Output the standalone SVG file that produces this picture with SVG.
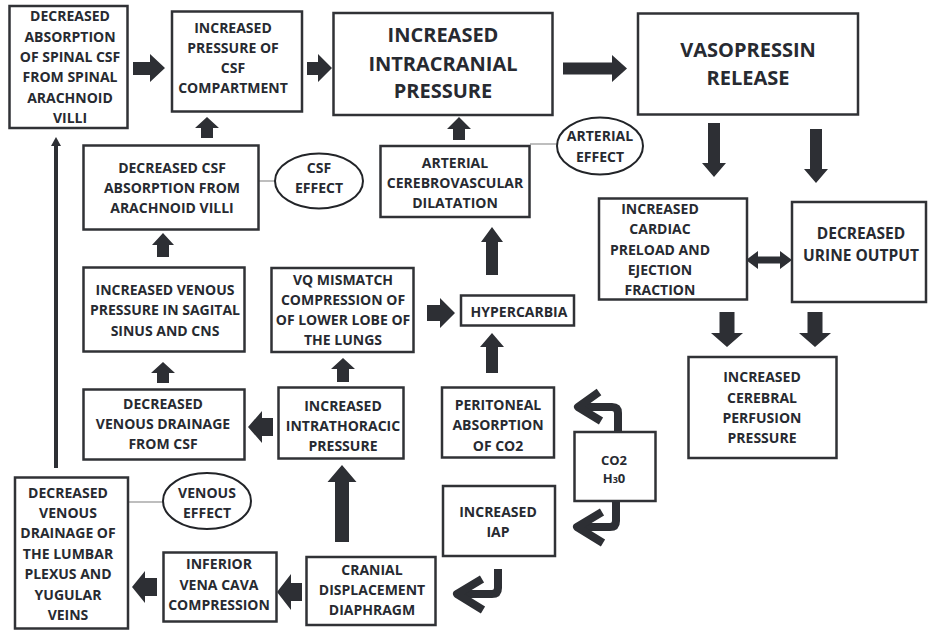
<svg xmlns="http://www.w3.org/2000/svg" width="928" height="632" viewBox="0 0 928 632">
<style>
.bx{fill:#fff;stroke:#303236;stroke-width:2.5}
.el{fill:#fff;stroke:#222428;stroke-width:2}
.ln{stroke:#a8a8a8;stroke-width:1.5;fill:none}
.ar{fill:#2d2f34}
.cv{fill:none;stroke:#2d2f34;stroke-width:8;stroke-linejoin:round}
text{font-family:"Open Sans","DejaVu Sans",sans-serif;font-weight:700;fill:#272a31;text-anchor:middle;font-size:14px}
.big{font-size:20px}
.mid{font-size:15.5px}
.sm{font-size:13px}
</style>
<rect width="928" height="632" fill="#fff"/>
<g id="connectors">
<line class="ln" x1="258" y1="181" x2="275" y2="181"/>
<line class="ln" x1="530" y1="144" x2="557" y2="144"/>
<line class="ln" x1="128" y1="502" x2="163" y2="502"/>
<polygon class="ar" points="133,62 150,62 150,54 165,68 150,82 150,75 133,75"/>
<polygon class="ar" points="307,62 318,62 318,54 332,68 318,82 318,75 307,75"/>
<polygon class="ar" points="563,62.5 612,62.5 612,55 627,68.5 612,82 612,74.5 563,74.5"/>
<polygon class="ar" points="708,123 720,123 720,163 726,163 714,177 702,163 708,163"/>
<polygon class="ar" points="810,129 822,129 822,169 828,169 816,183 804,169 810,169"/>
<polygon class="ar" points="746,260 758,251 758,256.5 780,256.5 780,251 792,260 780,269 780,263.5 758,263.5 758,269"/>
<polygon class="ar" points="719.5,312 734.5,312 734.5,333 743,333 727,347 711,333 719.5,333"/>
<polygon class="ar" points="807.5,312 822.5,312 822.5,333 831,333 815,347 799,333 807.5,333"/>
<polygon class="ar" points="459,117 471,129 465,129 465,140 453,140 453,129 447,129"/>
<polygon class="ar" points="492,227 503,242 498,242 498,275 486,275 486,242 481,242"/>
<polygon class="ar" points="492,333 504,347 498,347 498,373 486,373 486,347 480,347"/>
<polygon class="ar" points="427,305 440,305 440,298 455,313 440,328 440,321 427,321"/>
<polygon class="ar" points="343,358 355,369 349,369 349,382 337,382 337,369 331,369"/>
<polygon class="ar" points="342,465 356.5,482 349,482 349,542 335,542 335,482 327.5,482"/>
<polygon class="ar" points="248,427 262,411 262,418 273,418 273,436 262,436 262,443"/>
<polygon class="ar" points="163,362 175,373 169,373 169,383 157,383 157,373 151,373"/>
<polygon class="ar" points="163,233 174,245 169,245 169,257 157,257 157,245 152,245"/>
<polygon class="ar" points="207,117 219,128 213,128 213,138 201,138 201,128 195,128"/>
<polygon class="ar" points="277,592 291,574 291,583 302,583 302,601 291,601 291,610"/>
<polygon class="ar" points="132,587 145,571 145,578 157,578 157,596 145,596 145,603"/>
<line x1="56" y1="468" x2="56" y2="145" stroke="#2d2f34" stroke-width="4"/>
<polygon class="ar" points="56,137 61,146 51,146"/>
<path class="cv" d="M618,431 V413 Q618,407 612,407 H578"/>
<path class="cv" d="M599,392 L578,407 L601,421"/>
<path class="cv" d="M616,500 V521 Q616,527 610,527 H577"/>
<path class="cv" d="M602,512 L577,527 L603,543"/>
<path class="cv" d="M498,569 V588 Q498,594 492,594 H457"/>
<path class="cv" d="M482,579 L457,594 L483,610"/>
</g>
<g id="n1"><rect class="bx" x="9.5" y="6" width="118" height="122"/>
<text x="70" y="21">DECREASED</text><text x="70" y="42">ABSORPTION</text><text x="70" y="62">OF SPINAL CSF</text><text x="70" y="82">FROM SPINAL</text><text x="70" y="103">ARACHNOID</text><text x="70" y="123">VILLI</text></g>
<g id="n2"><rect class="bx" x="172" y="11.5" width="130" height="100"/>
<text x="233" y="33">INCREASED</text><text x="233" y="53">PRESSURE OF</text><text x="233" y="73">CSF</text><text x="233" y="93">COMPARTMENT</text></g>
<g id="n3"><rect class="bx" x="333.5" y="13" width="219" height="102"/>
<text class="big" x="443" y="42">INCREASED</text><text class="big" x="443" y="71">INTRACRANIAL</text><text class="big" x="443" y="98">PRESSURE</text></g>
<g id="n4"><rect class="bx" x="638" y="13.5" width="220" height="101"/>
<text class="big" x="748" y="57">VASOPRESSIN</text><text class="big" x="748" y="85">RELEASE</text></g>
<g id="n5"><rect class="bx" x="599" y="198.5" width="148" height="101"/>
<text x="660" y="213.5">INCREASED</text><text x="660" y="234">CARDIAC</text><text x="660" y="254.5">PRELOAD AND</text><text x="660" y="275">EJECTION</text><text x="660" y="295">FRACTION</text></g>
<g id="n6"><rect class="bx" x="792" y="202" width="134" height="100"/>
<text class="mid" x="861" y="238.5">DECREASED</text><text class="mid" x="861" y="260.5">URINE OUTPUT</text></g>
<g id="n7"><rect class="bx" x="688.5" y="357" width="148" height="101"/>
<text x="762" y="382">INCREASED</text><text x="762" y="403">CEREBRAL</text><text x="762" y="423">PERFUSION</text><text x="762" y="443">PRESSURE</text></g>
<g id="n8"><ellipse class="el" cx="600" cy="146" rx="43" ry="28.5"/>
<text x="600" y="141">ARTERIAL</text><text x="600" y="162">EFFECT</text></g>
<g id="n9"><rect class="bx" x="380.5" y="146" width="149" height="71"/>
<text x="455" y="168">ARTERIAL</text><text x="455" y="188">CEREBROVASCULAR</text><text x="455" y="208">DILATATION</text></g>
<g id="n10"><ellipse class="el" cx="319" cy="181" rx="44" ry="27.5"/>
<text x="319" y="173">CSF</text><text x="319" y="193">EFFECT</text></g>
<g id="n11"><rect class="bx" x="83.5" y="145.5" width="175" height="84"/>
<text x="172" y="173">DECREASED CSF</text><text x="172" y="193">ABSORPTION FROM</text><text x="172" y="213">ARACHNOID VILLI</text></g>
<g id="n12"><rect class="bx" x="83.5" y="267.5" width="161" height="84"/>
<text x="165" y="295">INCREASED VENOUS</text><text x="165" y="315">PRESSURE IN SAGITAL</text><text x="165" y="336">SINUS AND CNS</text></g>
<g id="n13"><rect class="bx" x="83.5" y="389.5" width="161" height="70"/>
<text x="163" y="409">DECREASED</text><text x="163" y="429">VENOUS DRAINAGE</text><text x="163" y="449">FROM CSF</text></g>
<g id="n14"><rect class="bx" x="278.5" y="387.5" width="125" height="71"/>
<text x="343" y="411">INCREASED</text><text x="343" y="431">INTRATHORACIC</text><text x="343" y="451">PRESSURE</text></g>
<g id="n15"><rect class="bx" x="271.5" y="268" width="142" height="84"/>
<text x="343" y="285">VQ MISMATCH</text><text x="343" y="305">COMPRESSION OF</text><text x="343" y="325">OF LOWER LOBE OF</text><text x="343" y="345">THE LUNGS</text></g>
<g id="n16"><rect class="bx" x="461" y="295.5" width="113" height="30"/>
<text x="519" y="317">HYPERCARBIA</text></g>
<g id="n17"><rect class="bx" x="442" y="387.5" width="112" height="70"/>
<text x="498" y="410">PERITONEAL</text><text x="498" y="430">ABSORPTION</text><text x="498" y="451">OF CO2</text></g>
<g id="n18"><rect class="bx" x="574.5" y="432" width="81" height="69"/>
<text class="sm" x="614" y="465">CO2</text><text class="sm" x="614" y="483">H<tspan font-size="9">3</tspan>0</text></g>
<g id="n19"><rect class="bx" x="443" y="486" width="112" height="70"/>
<text x="498" y="517">INCREASED</text><text x="498" y="537">IAP</text></g>
<g id="n20"><rect class="bx" x="306.5" y="557" width="129" height="68"/>
<text x="372" y="575">CRANIAL</text><text x="372" y="595">DISPLACEMENT</text><text x="372" y="615">DIAPHRAGM</text></g>
<g id="n21"><rect class="bx" x="163.5" y="552.5" width="113" height="69"/>
<text x="219" y="569">INFERIOR</text><text x="219" y="590">VENA CAVA</text><text x="219" y="610">COMPRESSION</text></g>
<g id="n22"><rect class="bx" x="15" y="477.5" width="113" height="151"/>
<text x="68" y="498">DECREASED</text><text x="68" y="518">VENOUS</text><text x="68" y="538">DRAINAGE OF</text><text x="68" y="559">THE LUMBAR</text><text x="68" y="579">PLEXUS AND</text><text x="68" y="600">YUGULAR</text><text x="68" y="620">VEINS</text></g>
<g id="n23"><ellipse class="el" cx="207" cy="501" rx="44" ry="28"/>
<text x="207" y="498">VENOUS</text><text x="207" y="518">EFFECT</text></g>
</svg>
